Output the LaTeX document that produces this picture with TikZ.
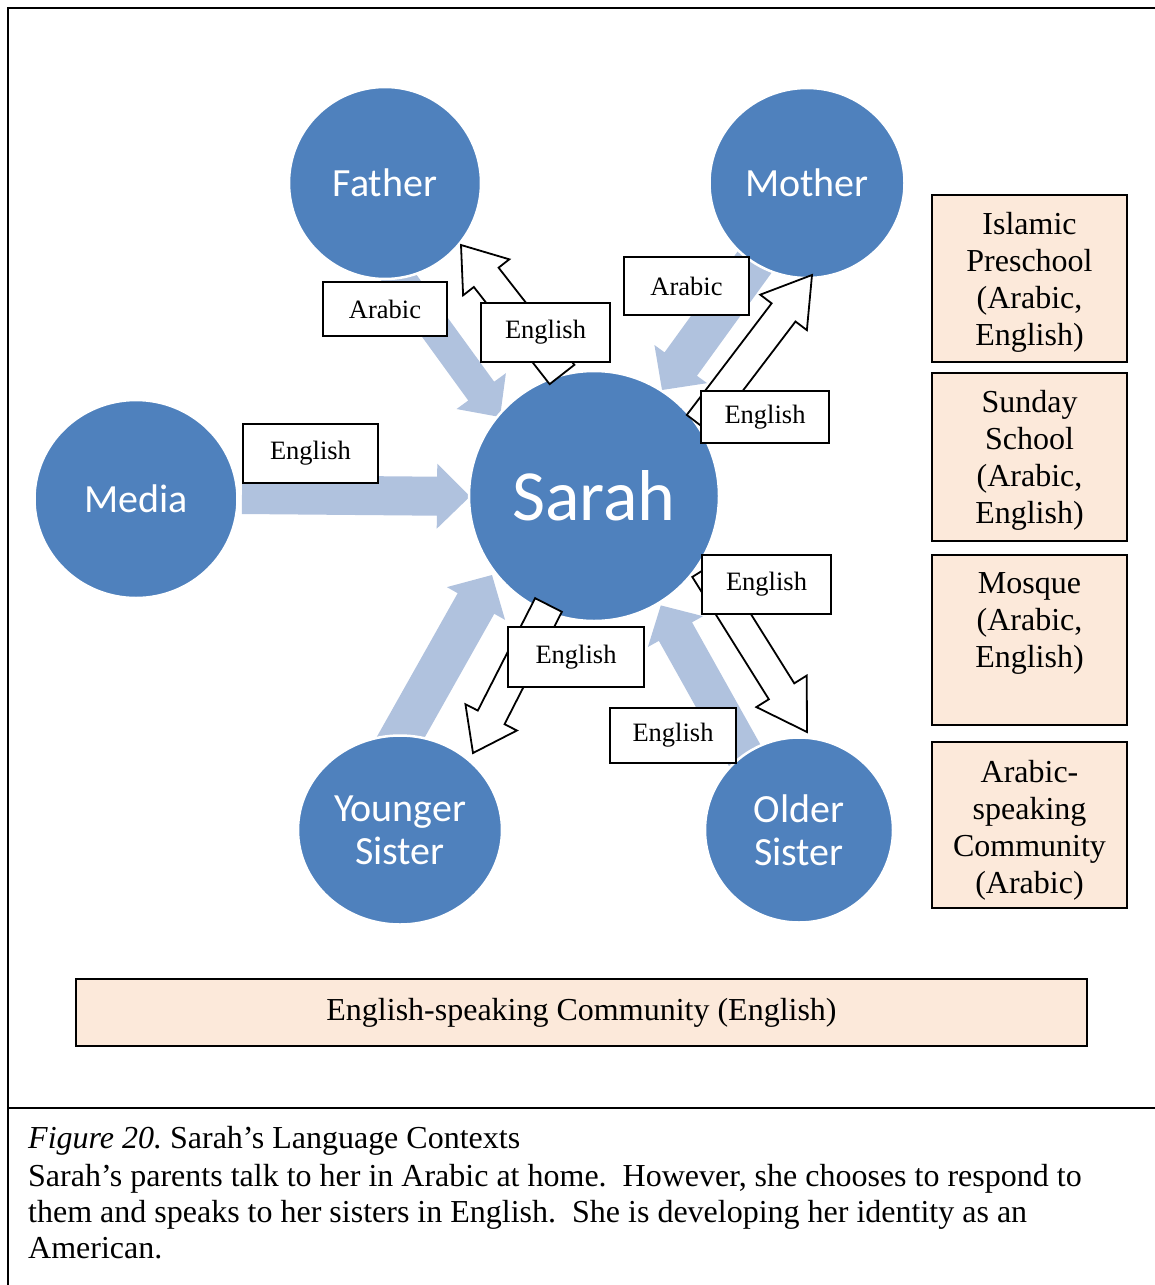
\documentclass[tikz,border=0pt]{standalone}
\usepackage{fontspec}
\setmainfont{Liberation Serif}
\newfontfamily\calibfont{Carlito}
\usetikzlibrary{calc,shapes.geometric}
\definecolor{nodeblue}{RGB}{79,129,189}
\definecolor{lightflow}{RGB}{176,194,222}
\definecolor{peach}{RGB}{252,233,218}
% block arrow: style, tail, tip, half shaft, half head, head length
\newcommand{\blockarrow}[6]{%
  \coordinate (ba-h) at ($(#3)!#6!(#2)$);
  \path[#1] ($(#2)!#4!90:(#3)$) -- ($(ba-h)!#4!90:(#3)$) -- ($(ba-h)!#5!90:(#3)$) -- (#3)
     -- ($(ba-h)!#5!-90:(#3)$) -- ($(ba-h)!#4!-90:(#3)$) -- ($(#2)!#4!-90:(#3)$) -- cycle;}
\tikzset{
  person/.style={ellipse, fill=nodeblue, draw=white, line width=2.5pt, inner sep=0pt,
    text=white, font=\calibfont\fontsize{40}{43}\selectfont, align=center},
  inflow/.style={fill=lightflow},
  outflow/.style={fill=white, draw=black, line width=1.8pt, line join=miter},
  lbl/.style 2 args={draw=black, line width=1.8pt, fill=white, minimum width=#1,
    minimum height=#2, inner sep=0pt, font=\fontsize{26.5}{30}\selectfont},
  ctxbox/.style 2 args={draw=black, line width=1.8pt, fill=peach, minimum width=#1,
    minimum height=#2, inner sep=0pt},
  ctxtext/.style={align=center, font=\fontsize{32}{37}\selectfont, inner sep=0pt},
  outerframe/.style={line width=2pt},
  captionline/.style={anchor=base west, inner sep=0pt, font=\fontsize{32}{37}\selectfont\frenchspacing}
}
\begin{document}
\begin{tikzpicture}[x=1pt,y=-1pt]
\useasboundingbox (0,0) rectangle (1155,1285);
% frame
\draw[outerframe] (8,1286) -- (8,8) -- (1156,8);
\draw[outerframe] (8,1108) -- (1156,1108);

% incoming (light) arrows
\coordinate (fa-t) at (394,271);   \coordinate (fa-h) at (500,417);
\coordinate (mo-t) at (773.5,236); \coordinate (mo-h) at (662,390);
\coordinate (me-t) at (242,494.5); \coordinate (me-h) at (470,496.5);
\coordinate (ys-t) at (391.6,753.4); \coordinate (ys-h) at (492,575);
\coordinate (os-t) at (773,806);   \coordinate (os-h) at (660.8,605.4);
\blockarrow{inflow}{fa-t}{fa-h}{16pt}{30.5pt}{32pt}
\blockarrow{inflow}{mo-t}{mo-h}{20pt}{32.5pt}{32pt}
\blockarrow{inflow}{me-t}{me-h}{19.5pt}{32.5pt}{33pt}
\blockarrow{inflow}{ys-t}{ys-h}{21pt}{33.4pt}{32.7pt}
\blockarrow{inflow}{os-t}{os-h}{19pt}{31.6pt}{30pt}

% people
\node[person, minimum width=192pt, minimum height=192pt] (father) at (385,183) {Father};
\node[person, minimum width=195pt, minimum height=190pt] (mother) at (807,183) {Mother};
\node[person, minimum width=250pt, minimum height=250pt, font=\calibfont\fontsize{72}{78}\selectfont] (sarah) at (594,496) {\raisebox{2pt}{Sarah}};
\node[person, minimum width=203pt, minimum height=198pt] (media) at (136,499) {Media};
\node[person, minimum width=204pt, minimum height=189pt] (younger) at (400,830) {Younger\\Sister};
\node[person, minimum width=188pt, minimum height=185pt] (older) at (799,830) {Older\\Sister};

% outgoing (white) arrows
\coordinate (sf-t) at (562,374.5); \coordinate (sf-h) at (461,245);
\coordinate (sm-t) at (698.7,424); \coordinate (sm-h) at (812,275);
\coordinate (sy-t) at (548.5,605); \coordinate (sy-h) at (473,753);
\coordinate (so-t) at (705,569);   \coordinate (so-h) at (807,732);
\blockarrow{outflow}{sf-t}{sf-h}{15.7pt}{29.3pt}{41pt}
\blockarrow{outflow}{sm-t}{sm-h}{15pt}{29.3pt}{47pt}
\blockarrow{outflow}{sy-t}{sy-h}{15pt}{28.9pt}{40pt}
\blockarrow{outflow}{so-t}{so-h}{15pt}{29.7pt}{48pt}

% labels
\node[lbl={124pt}{54pt}] (l-fa) at (385,309) {Arabic};
\node[lbl={129pt}{59pt}] (l-sf) at (545.5,332.5) {English};
\node[lbl={125pt}{58pt}] (l-mo) at (686.5,286) {Arabic};
\node[lbl={128pt}{52pt}] (l-sm) at (765,417) {\raisebox{-2pt}{English}};
\node[lbl={135pt}{59pt}] (l-me) at (310.5,453.5) {English};
\node[lbl={136pt}{60pt}] (l-sy) at (576,657) {English};
\node[lbl={129pt}{59pt}] (l-so) at (766.5,584.5) {English};
\node[lbl={126pt}{55pt}] (l-os) at (673,735.5) {English};

% contexts
\node[ctxbox={195pt}{167pt}] (islamic) at (1029.5,278.5) {};
\node[ctxtext] (islamic-t) at (1029.5,282) {Islamic\\Preschool\\(Arabic,\\English)};
\node[ctxbox={195pt}{168pt}] (sunday) at (1029.5,457) {};
\node[ctxtext] (sunday-t) at (1029.5,460) {Sunday\\School\\(Arabic,\\English)};
\node[ctxbox={195pt}{170pt}] (mosque) at (1029.5,640) {};
\node[ctxtext] (mosque-t) at (1029.5,623) {Mosque\\(Arabic,\\English)};
\node[ctxbox={195pt}{166pt}] (arcomm) at (1029.5,825) {};
\node[ctxtext] (arcomm-t) at (1029.5,830) {Arabic-\\speaking\\Community\\(Arabic)};
\node[ctxbox={1011pt}{67pt}, ctxtext] (encomm) at (581.5,1012.5) {English-speaking Community (English)};

% caption
\node[captionline] (cap1) at (28,1148) {\textit{Figure 20.} Sarah’s Language Contexts};
\node[captionline] (cap2) at (28,1186) {Sarah’s parents talk to her in Arabic at home.\ \ However, she chooses to respond to};
\node[captionline] (cap3) at (28,1222) {them and speaks to her sisters in English.\ \ She is developing her identity as an};
\node[captionline] (cap4) at (28,1258) {American.};
\end{tikzpicture}
\end{document}
